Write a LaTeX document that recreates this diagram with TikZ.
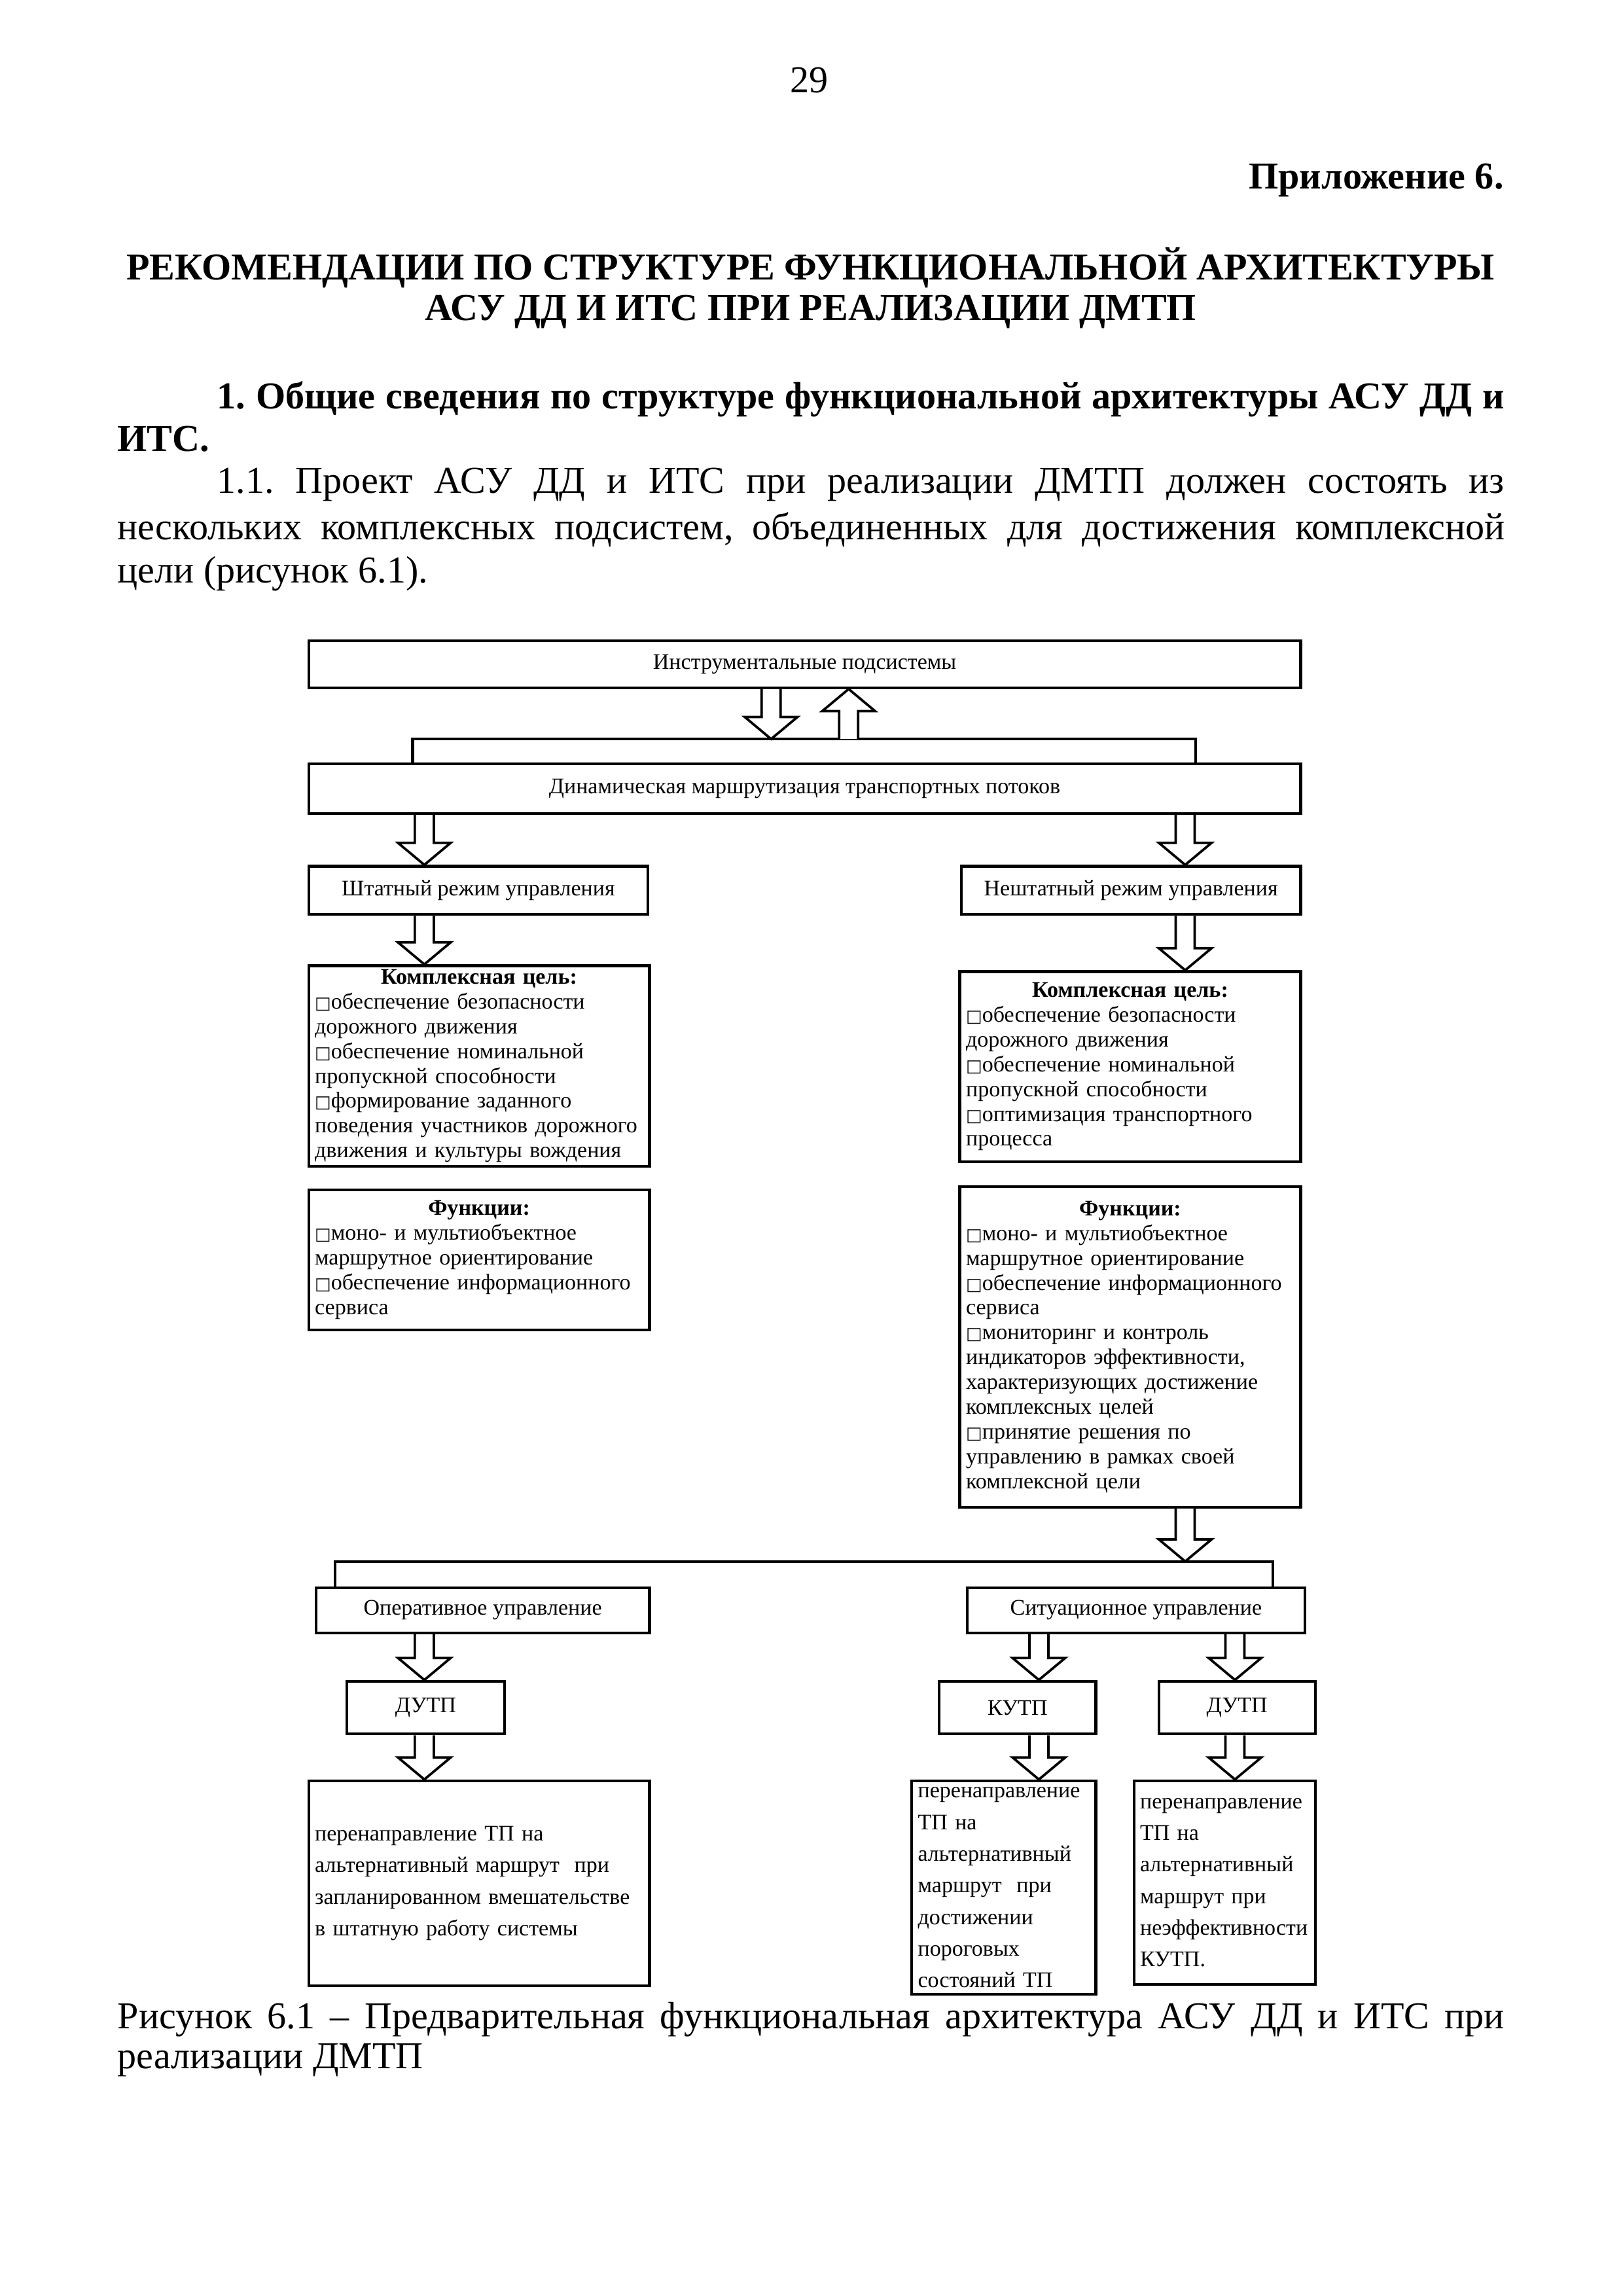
\documentclass[tikz,border=0pt]{standalone}
\usepackage{fontspec}
\setmainfont{Liberation Serif}
\newfontfamily\symfont{DejaVu Sans}
\usetikzlibrary{calc}
\frenchspacing

\newcommand{\bodyfont}{\fontsize{14}{16}\selectfont}
\newcommand{\boxfont}{\fontsize{8.2}{9.5}\selectfont}
\newcommand{\listfont}{\fontsize{8.2}{9.13}\selectfont}
\newcommand{\actfont}{\fontsize{8.2}{11.65}\selectfont}
\newcommand{\bul}{{\symfont\fontsize{6.3}{7}\selectfont □}}

% hollow block arrow from #1 to #2 (vertical)
\newcommand{\flowarrow}[2]{%
  \draw[flow] let \p1=#1, \p2=#2, \n1={ifthenelse(\y2<\y1,1,-1)} in
    ({\x1-3.5pt},\y1) -- ({\x1-3.5pt},{\y2+(\n1)*8.1pt}) -- ({\x1-9.7pt},{\y2+(\n1)*8.1pt}) -- (\x1,\y2)
    -- ({\x1+9.7pt},{\y2+(\n1)*8.1pt}) -- ({\x1+3.5pt},{\y2+(\n1)*8.1pt}) -- ({\x1+3.5pt},\y1);}

\begin{document}
\begin{tikzpicture}[x=0.18936mm, y=-0.18936mm,
    box/.style={draw, line width=1pt, inner sep=0pt, anchor=north west, align=center, font=\boxfont},
    listbox/.style={box, align=left, inner xsep=0.8mm, font=\listfont},
    actbox/.style={box, align=left, inner xsep=0.8mm, font=\actfont},
    txt/.style={inner sep=0pt, font=\bodyfont},
    flow/.style={line width=0.9pt, fill=white, line join=miter},
    bracket/.style={line width=1pt}
]
\useasboundingbox (0,0) rectangle (1109,1569);

% Page text above the figure
\node[txt] (pagenum) at (553,55) {29};
\node[txt, anchor=east] (appx) at (1028,123) {\bfseries Приложение 6.};
\node[txt] (title1) at (554,183) {\bfseries РЕКОМЕНДАЦИИ ПО СТРУКТУРЕ ФУНКЦИОНАЛЬНОЙ АРХИТЕКТУРЫ};
\node[txt] (title2) at (554,213) {\bfseries АСУ ДД И ИТС ПРИ РЕАЛИЗАЦИИ ДМТП};
\node[txt, anchor=west] (sec1a) at (148,273) {\makebox[166.6mm][s]{\bfseries 1. Общие сведения по структуре функциональной архитектуры АСУ ДД и}};
\node[txt, anchor=west] (sec1b) at (80,300) {\bfseries ИТС.};
\node[txt, anchor=west] (para1) at (148,331) {\makebox[166.6mm][s]{1.1. Проект АСУ ДД и ИТС при реализации ДМТП должен состоять из}};
\node[txt, anchor=west] (para2) at (80,362) {\makebox[179.5mm][s]{нескольких комплексных подсистем, объединенных для достижения комплексной}};
\node[txt, anchor=west] (para3) at (80,392) {цели (рисунок 6.1).};

% Top level - subsystems and routing
\node[box, minimum width=128.39mm, minimum height=6.06mm] (instr) at (210,437) {Инструментальные подсистемы};
\node[box, minimum width=128.39mm, minimum height=6.44mm] (dynroute) at (210,521) {Динамическая маршрутизация транспортных потоков};

% Bracket over the routing box
\coordinate (brTL) at (282,505);
\coordinate (brTR) at (817,505);
\draw[bracket] (brTL |- dynroute.north) -- (brTL) -- (brTR) -- (brTR |- dynroute.north);

% Control modes
\node[box, minimum width=43.93mm, minimum height=6.25mm] (regular) at (210,591) {Штатный режим управления};
\node[box, minimum width=43.93mm, minimum height=6.25mm] (irregular) at (656,591) {Нештатный режим управления};

% Goals and functions
\node[listbox, minimum width=44.12mm, minimum height=25.94mm, text width=42.5mm] (goalL) at (210,659) {%
  \makebox[\hsize]{\bfseries Комплексная цель:}\\
  \bul обеспечение безопасности\\
  дорожного движения\\
  \bul обеспечение номинальной\\
  пропускной способности\\
  \bul формирование заданного\\
  поведения участников дорожного\\
  движения и культуры вождения};
\node[listbox, minimum width=44.12mm, minimum height=24.62mm, text width=42.5mm] (goalR) at (655,663) {%
  \makebox[\hsize]{\bfseries Комплексная цель:}\\
  \bul обеспечение безопасности\\
  дорожного движения\\
  \bul обеспечение номинальной\\
  пропускной способности\\
  \bul оптимизация транспортного\\
  процесса};
\node[listbox, minimum width=44.12mm, minimum height=18.18mm, text width=42.5mm] (funcL) at (210,812) {%
  \makebox[\hsize]{\bfseries Функции:}\\
  \bul моно- и мультиобъектное\\
  маршрутное ориентирование\\
  \bul обеспечение информационного\\
  сервиса};
\node[listbox, minimum width=44.12mm, minimum height=41.47mm, text width=42.5mm] (funcR) at (655,810) {%
  \makebox[\hsize]{\bfseries Функции:}\\
  \bul моно- и мультиобъектное\\
  маршрутное ориентирование\\
  \bul обеспечение информационного\\
  сервиса\\
  \bul мониторинг и контроль\\
  индикаторов эффективности,\\
  характеризующих достижение\\
  комплексных целей\\
  \bul принятие решения по\\
  управлению в рамках своей\\
  комплексной цели};

% Bracket over the management boxes
\coordinate (brBL) at (229,1067);
\coordinate (brBR) at (870,1067);

\node[box, minimum width=43.17mm, minimum height=5.87mm] (oper) at (215,1084) {Оперативное управление};
\node[box, minimum width=43.74mm, minimum height=5.87mm] (situ) at (660,1084) {Ситуационное управление};
\draw[bracket] (brBL |- oper.north) -- (brBL) -- (brBR) -- (brBR |- situ.north);

% Traffic flow control types
\node[box, minimum width=20.45mm, minimum height=6.82mm] (dutpL) at (236,1148) {ДУТП};
\node[box, minimum width=20.26mm, minimum height=6.82mm] (kutp) at (641,1148) {КУТП};
\node[box, minimum width=20.26mm, minimum height=6.82mm] (dutpR) at (791,1148) {ДУТП};

% Actions
\node[actbox, minimum width=44.12mm, minimum height=26.51mm, text width=42.5mm] (actL) at (210,1216) {%
  перенаправление ТП на\\
  альтернативный маршрут\ \ при\\
  запланированном вмешательстве\\
  в штатную работу системы};
\node[actbox, minimum width=23.86mm, minimum height=27.65mm, text width=22.2mm] (actK) at (622,1216) {%
  перенаправление\\
  ТП на\\
  альтернативный\\
  маршрут\ \ при\\
  достижении\\
  пороговых\\
  состояний ТП};
\node[actbox, minimum width=23.48mm, minimum height=26.32mm, text width=21.9mm] (actR) at (774,1216) {%
  перенаправление\\
  ТП на\\
  альтернативный\\
  маршрут при\\
  неэффективности\\
  КУТП.};

% Arrow columns
\coordinate (ax1) at (527,0);
\coordinate (ax2) at (580,0);
\coordinate (cL) at (290,0);
\coordinate (cR) at (810,0);
\coordinate (cK) at (710,0);
\coordinate (cD) at (844,0);

% Arrows between levels
\flowarrow{(instr.south -| ax1)}{(brTL -| ax1)}
\flowarrow{(brTL -| ax2)}{(instr.south -| ax2)}
\flowarrow{(dynroute.south -| cL)}{(regular.north -| cL)}
\flowarrow{(dynroute.south -| cR)}{(irregular.north -| cR)}
\flowarrow{(regular.south -| cL)}{(goalL.north -| cL)}
\flowarrow{(irregular.south -| cR)}{(goalR.north -| cR)}
\flowarrow{(funcR.south -| cR)}{(brBL -| cR)}
\flowarrow{(oper.south -| cL)}{(dutpL.north -| cL)}
\flowarrow{(situ.south -| cK)}{(kutp.north -| cK)}
\flowarrow{(situ.south -| cD)}{(dutpR.north -| cD)}
\flowarrow{(dutpL.south -| cL)}{(actL.north -| cL)}
\flowarrow{(kutp.south -| cK)}{(actK.north -| cK)}
\flowarrow{(dutpR.south -| cD)}{(actR.north -| cD)}

% Caption
\node[txt, anchor=west] (cap1) at (80,1380) {\makebox[179.5mm][s]{Рисунок 6.1 – Предварительная функциональная архитектура АСУ ДД и ИТС при}};
\node[txt, anchor=west] (cap2) at (80,1408) {реализации ДМТП};

\end{tikzpicture}
\end{document}
